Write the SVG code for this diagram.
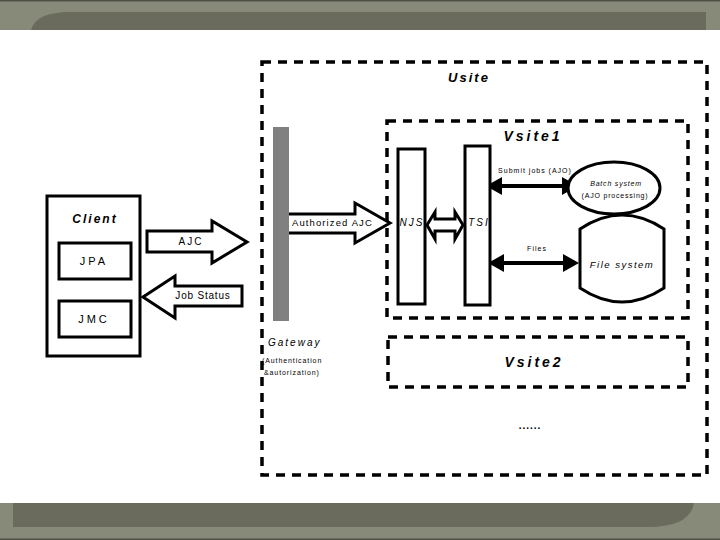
<svg xmlns="http://www.w3.org/2000/svg" width="720" height="540" viewBox="0 0 720 540">
<style>
text{font-family:"Liberation Sans",Arial,sans-serif;fill:#000}
.dash{fill:none;stroke:#000;stroke-width:3.5;stroke-dasharray:9 7}
.box{fill:#fff;stroke:#000;stroke-width:3}
.blk{fill:#fff;stroke:#000;stroke-width:3;stroke-linejoin:miter}
.bi{font-weight:bold;font-style:italic}
.it{font-style:italic}
.sa{stroke:#000;stroke-width:4;marker-start:url(#ah);marker-end:url(#ah)}
</style>
<defs>
<marker id="ah" viewBox="0 0 16 18" refX="1" refY="9" markerWidth="4" markerHeight="4.5" orient="auto-start-reverse" markerUnits="strokeWidth">
<path d="M0,0 L16,9 L0,18 Z" fill="#000"/>
</marker>
</defs>
<rect width="720" height="540" fill="#fff"/>
<g id="top-band">
<rect x="0" y="0" width="720" height="30" fill="#878a78"/>
<rect x="0" y="0" width="720" height="1.5" fill="#4e5046"/>
<path d="M31,30 Q36,12 70,12 L706,12 L706,30 Z" fill="#6b6b5d"/>
</g>
<g id="bottom-band">
<rect x="0" y="503" width="720" height="37" fill="#878a78"/>
<path d="M13,503 L694,503 Q690,527 648,527 L13,527 Z" fill="#6b6b5d"/>
<rect x="0" y="538.5" width="720" height="1.5" fill="#4e5046"/>
</g>
<g id="usite">
<rect class="dash" x="262" y="62" width="445" height="413"/>
<text class="bi" x="469" y="82" font-size="13" letter-spacing="2" text-anchor="middle">Usite</text>
</g>
<g id="vsite1">
<rect class="dash" x="387" y="121" width="301" height="197"/>
<text class="bi" x="533" y="141" font-size="14" letter-spacing="3" text-anchor="middle">Vsite1</text>
</g>
<g id="vsite2">
<rect class="dash" x="388" y="337" width="300" height="50"/>
<text class="bi" x="534" y="367" font-size="14" letter-spacing="3" text-anchor="middle">Vsite2</text>
</g>
<text x="530" y="429" font-size="10" font-weight="bold" letter-spacing="1" text-anchor="middle">......</text>
<g id="client">
<rect class="box" x="47" y="196" width="93" height="160"/>
<text class="bi" x="95" y="223" font-size="12" letter-spacing="2" text-anchor="middle">Client</text>
</g>
<g id="jpa">
<rect class="box" x="59" y="243" width="72" height="36"/>
<text x="94" y="265" font-size="11" letter-spacing="3" text-anchor="middle">JPA</text>
</g>
<g id="jmc">
<rect class="box" x="59" y="301" width="72" height="36"/>
<text x="94" y="323" font-size="11" letter-spacing="3" text-anchor="middle">JMC</text>
</g>
<g id="connectors">
<g id="ajc">
<polygon class="blk" points="147,231 212,231 212,221 247,242 212,263 212,252 147,252"/>
<text x="191" y="245" font-size="10" letter-spacing="2" text-anchor="middle">AJC</text>
</g>
<g id="job-status">
<polygon class="blk" points="143,297 175,276 175,286 242,286 242,306 175,306 175,318"/>
<text x="203" y="299" font-size="10" letter-spacing="0.8" text-anchor="middle">Job Status</text>
</g>
<g id="authorized-ajc">
<polygon class="blk" points="285,214 355,214 355,203 390,223 355,243 355,233 285,233"/>
<text x="292" y="226" font-size="9.5" letter-spacing="1.1">Authorized AJC</text>
</g>
<polygon id="njs-tsi" class="blk" points="427,225 435,212 435,219 455,219 455,212 463,225 455,239 455,231 435,231 435,239"/>
<g id="submit">
<line class="sa" x1="501" y1="186" x2="563" y2="186"/>
<text x="535" y="173" font-size="7" letter-spacing="1" text-anchor="middle">Submit jobs (AJO)</text>
</g>
<g id="files">
<line class="sa" x1="503" y1="263" x2="564" y2="263"/>
<text x="537" y="251" font-size="7" letter-spacing="1" text-anchor="middle">Files</text>
</g>
</g>
<g id="gateway">
<rect x="273" y="127" width="16" height="194" fill="#808080"/>
<text class="it" x="268" y="346" font-size="10" letter-spacing="2">Gateway</text>
<text x="262" y="363" font-size="7" letter-spacing="0.9">(Authentication</text>
<text x="264" y="375" font-size="7" letter-spacing="0.9">&amp;autorization)</text>
</g>
<g id="njs">
<rect class="box" x="398" y="149" width="27" height="155"/>
<text class="it" x="412" y="226" font-size="10" letter-spacing="2" text-anchor="middle">NJS</text>
</g>
<g id="tsi">
<rect class="box" x="465" y="146" width="25" height="159"/>
<text class="it" x="479" y="226" font-size="10" letter-spacing="2" text-anchor="middle">TSI</text>
</g>
<g id="batch">
<ellipse cx="614" cy="188" rx="46" ry="26" fill="#fff" stroke="#000" stroke-width="3"/>
<text class="it" x="616" y="186" font-size="7" letter-spacing="0.8" text-anchor="middle">Batch system</text>
<text x="615" y="198" font-size="7" letter-spacing="0.8" text-anchor="middle">(AJO processing)</text>
</g>
<g id="filesystem">
<path d="M580,229 Q622,201 664,229 L664,288 Q622,316 580,288 Z" fill="#fff" stroke="#000" stroke-width="3"/>
<text class="it" x="622" y="268" font-size="9.5" letter-spacing="1.5" text-anchor="middle">File system</text>
</g>
</svg>
